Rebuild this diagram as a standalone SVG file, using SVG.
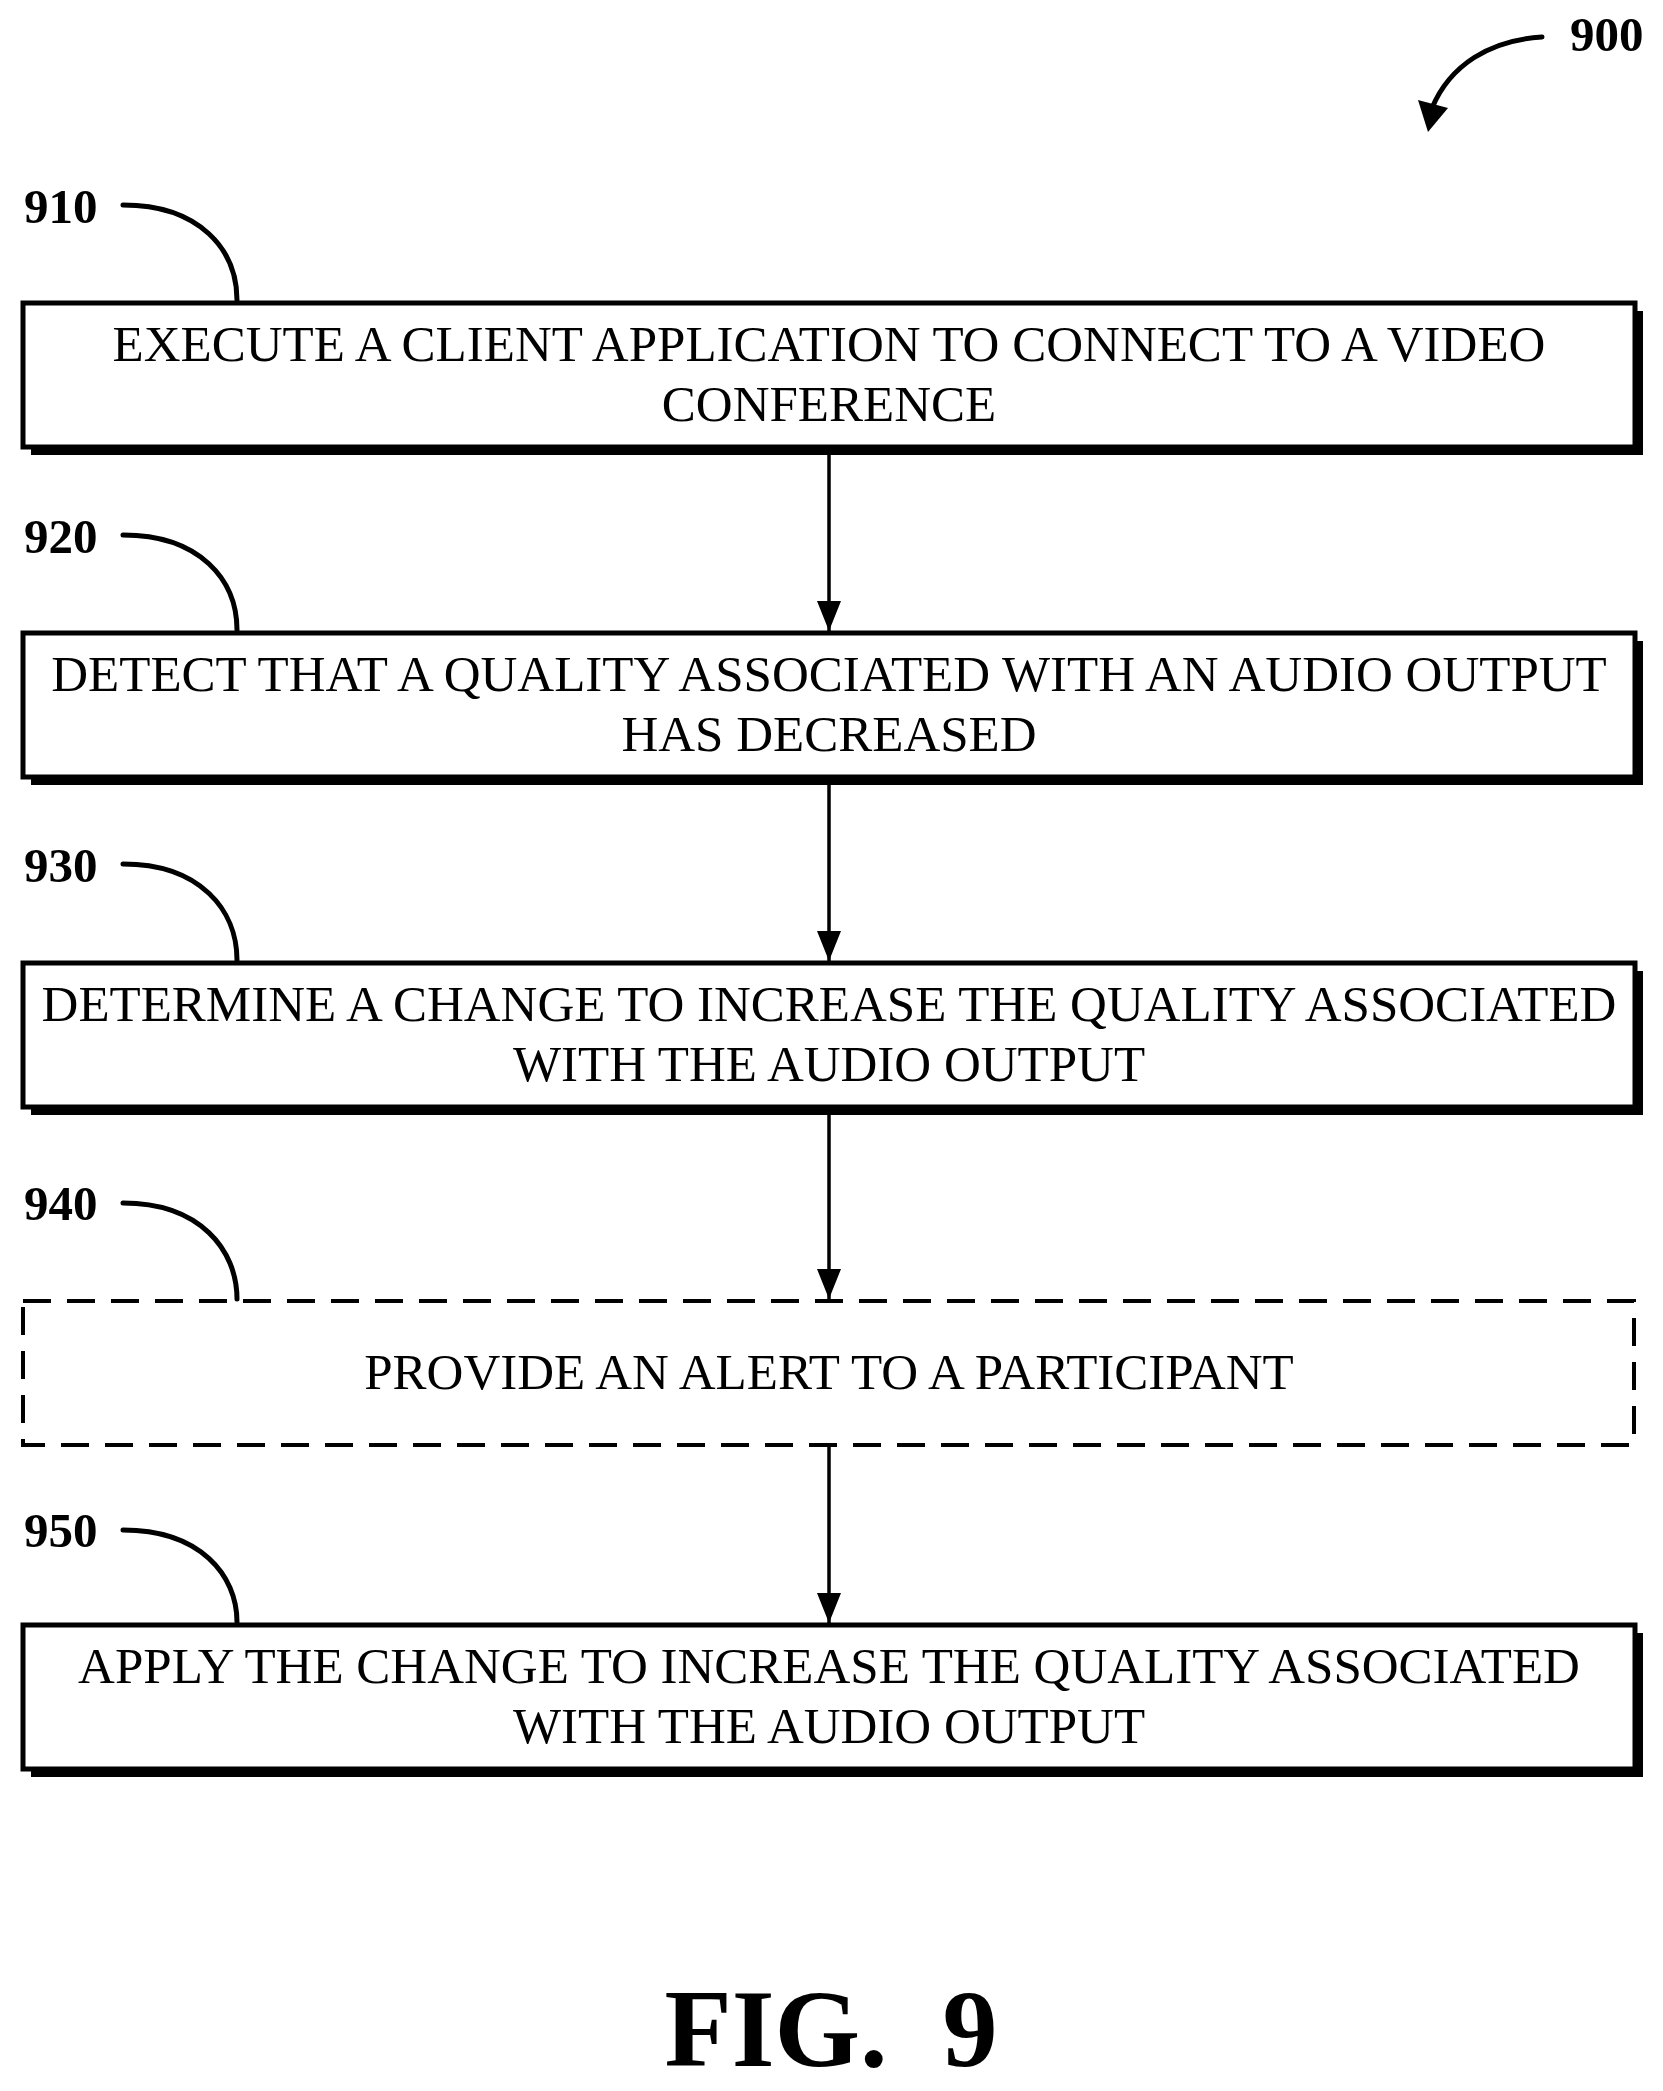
<svg xmlns="http://www.w3.org/2000/svg" width="1663" height="2091" viewBox="0 0 1663 2091">
<style>
.box{fill:#fff;stroke:#000;stroke-width:5}
.sh{fill:#000}
.t{font-family:"Liberation Serif",serif;font-size:51px;text-anchor:middle}
.lb{font-family:"Liberation Serif",serif;font-size:49px;font-weight:bold}
.ld{fill:none;stroke:#000;stroke-width:5;stroke-linecap:round}
.cn{stroke:#000;stroke-width:3.5}
</style>
<defs>
<marker id="a" viewBox="0 0 30 24" refX="30" refY="12" markerWidth="30" markerHeight="24" markerUnits="userSpaceOnUse" orient="auto"><path d="M0,0 L30,12 L0,24z"/></marker></defs>
<g id="ref900"><text class="lb" x="1570" y="51">900</text><path class="ld" d="M1542,37 C1490,40 1450,65 1432,108"/><path d="M1418,100 L1448,108 L1428,132z"/></g>
<g id="n910"><rect class="sh" x="31" y="311" width="1612" height="144"/><rect class="box" x="23" y="303" width="1612" height="144"/><text class="t" x="829" y="361">EXECUTE A CLIENT APPLICATION TO CONNECT TO A VIDEO</text><text class="t" x="829" y="421">CONFERENCE</text><text class="lb" x="24" y="223">910</text><path class="ld" d="M123,205 C200,205 237,250 237,300"/></g>
<g id="n920"><rect class="sh" x="31" y="641" width="1612" height="144"/><rect class="box" x="23" y="633" width="1612" height="144"/><text class="t" x="829" y="691">DETECT THAT A QUALITY ASSOCIATED WITH AN AUDIO OUTPUT</text><text class="t" x="829" y="751">HAS DECREASED</text><text class="lb" x="24" y="553">920</text><path class="ld" d="M123,535 C200,535 237,580 237,630"/></g>
<g id="n930"><rect class="sh" x="31" y="971" width="1612" height="144"/><rect class="box" x="23" y="963" width="1612" height="144"/><text class="t" x="829" y="1021">DETERMINE A CHANGE TO INCREASE THE QUALITY ASSOCIATED</text><text class="t" x="829" y="1081">WITH THE AUDIO OUTPUT</text><text class="lb" x="24" y="882">930</text><path class="ld" d="M123,864 C200,864 237,910 237,960"/></g>
<g id="n940"><rect x="23" y="1301" width="1611" height="144" fill="#fff" stroke="#000" stroke-width="4" stroke-dasharray="28 16"/><text class="t" x="829" y="1389">PROVIDE AN ALERT TO A PARTICIPANT</text><text class="lb" x="24" y="1220">940</text><path class="ld" d="M123,1203 C200,1203 237,1250 237,1299"/></g>
<g id="n950"><rect class="sh" x="31" y="1633" width="1612" height="144"/><rect class="box" x="23" y="1625" width="1612" height="144"/><text class="t" x="829" y="1683">APPLY THE CHANGE TO INCREASE THE QUALITY ASSOCIATED</text><text class="t" x="829" y="1743">WITH THE AUDIO OUTPUT</text><text class="lb" x="24" y="1547">950</text><path class="ld" d="M123,1530 C200,1530 237,1575 237,1622"/></g>
<g id="connectors">
<line class="cn" x1="829" y1="455" x2="829" y2="631" marker-end="url(#a)"/>
<line class="cn" x1="829" y1="785" x2="829" y2="961" marker-end="url(#a)"/>
<line class="cn" x1="829" y1="1115" x2="829" y2="1299" marker-end="url(#a)"/>
<line class="cn" x1="829" y1="1447" x2="829" y2="1623" marker-end="url(#a)"/>
</g>
<text x="831" y="2066" font-family="'Liberation Serif',serif" font-size="110" font-weight="bold" text-anchor="middle" xml:space="preserve">FIG.  9</text>
</svg>
